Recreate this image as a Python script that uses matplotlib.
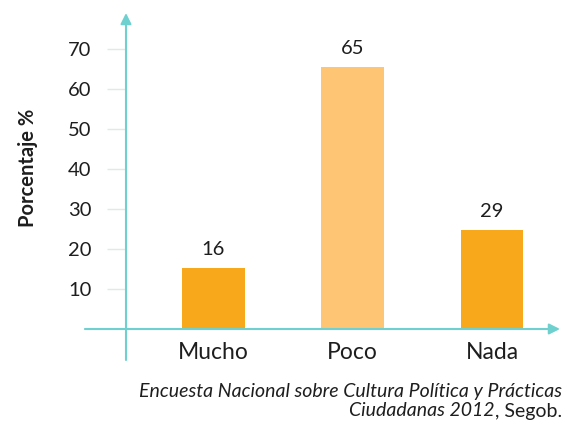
import matplotlib.pyplot as plt

categories = ['Mucho', 'Poco', 'Nada']
bar_heights = [15.25, 65.5, 24.75]
value_labels = ['16', '65', '29']
y_ticks = [10, 20, 30, 40, 50, 60, 70]
source_line1 = 'Encuesta Nacional sobre Cultura Política y Prácticas'
source_line2 = 'Ciudadanas 2012'
source_tail = ', Segob.'

bar_colors = ['#f7a81b', '#fdc574', '#f7a81b']
teal = '#6fd0d0'
txt = '#1e1e1e'

plt.rcParams['font.family'] = ['Lato', 'DejaVu Sans']

fig = plt.figure(figsize=(5.67, 4.21), dpi=100)
ax = fig.add_axes([126/567, 61/421, 434/567, 347/421])
ax.set_xlim(-0.628, 2.488)
ax.set_ylim(-7.75, 79)

bars = ax.bar(range(len(categories)), bar_heights, width=0.45, color=bar_colors, zorder=2)
ax.bar_label(bars, labels=value_labels, padding=7, fontsize=14.5, color=txt)

for s in ax.spines.values():
    s.set_visible(False)
ax.set_xticks([])
ax.set_yticks(y_ticks)
ax.tick_params(axis='y', length=13.7, width=1, color='#dfe9e9', pad=11, labelsize=14.5, labelcolor=txt)

# axis arrows
ax.annotate('', xy=(2.488, 0), xytext=(-0.923, 0), annotation_clip=False,
            arrowprops=dict(arrowstyle='-|>', color=teal, lw=1.5, mutation_scale=16, shrinkA=0, shrinkB=0))
ax.annotate('', xy=(-0.628, 79), xytext=(-0.628, -7.75), annotation_clip=False,
            arrowprops=dict(arrowstyle='-|>', color=teal, lw=1.5, mutation_scale=16, shrinkA=0, shrinkB=0))

for i, cat in enumerate(categories):
    ax.text(i, -5.9, cat, ha='center', va='center', fontsize=16.5, color=txt)

fig.text(28/567, (421-168)/421, 'Porcentaje %', rotation=90, ha='center', va='center',
         fontsize=14.5, fontweight='bold', color=txt)

fig.text(562/567, (421-391)/421, source_line1, ha='right', va='center', fontsize=14,
         style='italic', color=txt)
t = fig.text(562/567, (421-411)/421, source_tail, ha='right', va='center', fontsize=14, color=txt)
fig.canvas.draw()
bb = t.get_window_extent()
fig.text(bb.x0 / fig.bbox.width, (421-411)/421, source_line2, ha='right', va='center',
         fontsize=14, style='italic', color=txt)

fig.savefig('out.png', dpi=100, facecolor='white')
